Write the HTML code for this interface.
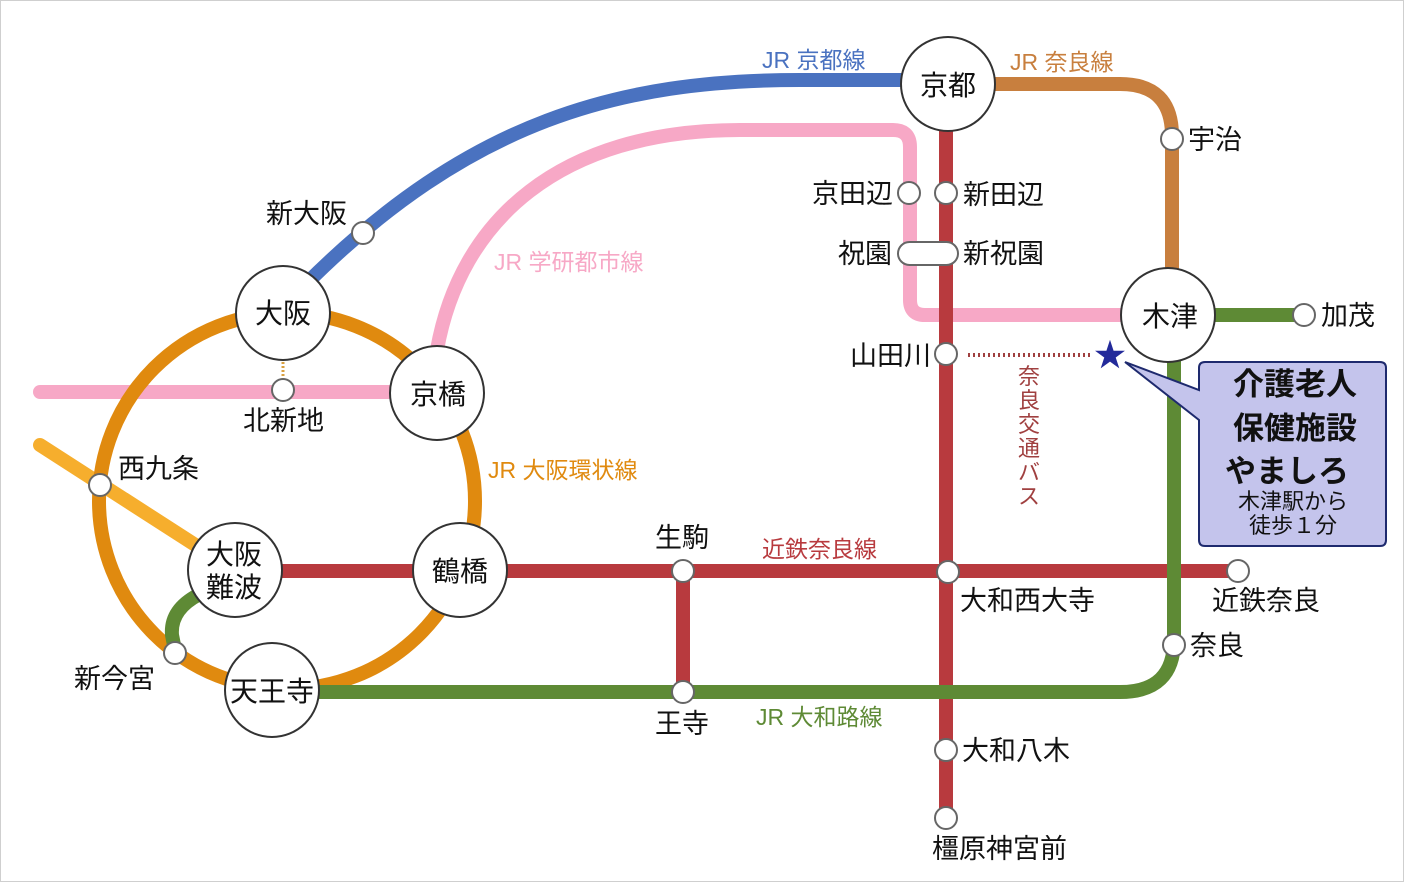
<!DOCTYPE html>
<html><head><meta charset="utf-8"><style>
html,body{margin:0;padding:0;background:#fff;}
svg{display:block;}
text{font-family:"Liberation Sans","Noto Sans CJK JP",sans-serif;}
</style></head><body>
<svg width="1404" height="882" viewBox="0 0 1404 882" xmlns="http://www.w3.org/2000/svg">
<rect x="0.5" y="0.5" width="1403" height="881" fill="#fff" stroke="#cfcfcf"/>
<g fill="none" stroke-linecap="round" stroke-width="14">
<path d="M305,285 C470,120 620,80 800,80 L905,80" stroke="#4a72c0"/>
<path d="M990,84 L1120,84 Q1172,84 1172,136 L1172,272" stroke="#c87f3e"/>
<path d="M437,350 C460,220 560,130 740,130 L893,130 Q910,130 910,147 L910,300 Q910,315 925,315 L1125,315" stroke="#f7a8c6"/>
<path d="M40,392 L395,392" stroke="#f7a8c6"/>
<path d="M40,445 L200,548" stroke="#f6ae2d"/>
<circle cx="287" cy="501" r="188" stroke="#e08a0f"/>
<path d="M280,571 L1238,571" stroke="#b83a3e"/>
<path d="M946,125 L946,818" stroke="#b83a3e"/>
<path d="M683,571 L683,692" stroke="#b83a3e"/>
<path d="M320,692 L1120,692 Q1174,692 1174,640 L1174,360" stroke="#5e8a35"/>
<path d="M1210,315 L1304,315" stroke="#5e8a35"/>
<path d="M198,595 Q170,610 172,635 L175,650" stroke="#5e8a35"/>
</g>
<line x1="283" y1="362" x2="283" y2="380" stroke="#d9a040" stroke-width="3" stroke-dasharray="2,2"/>
<line x1="968" y1="355" x2="1092" y2="355" stroke="#a04040" stroke-width="4" stroke-dasharray="2,3"/>
<g fill="#fff" stroke="#666" stroke-width="2">
<circle cx="363" cy="233" r="11"/><circle cx="283" cy="390" r="11"/><circle cx="100" cy="485" r="11"/>
<circle cx="175" cy="653" r="11"/><circle cx="683" cy="571" r="11"/><circle cx="683" cy="692" r="11"/>
<circle cx="948" cy="572" r="11"/><circle cx="946" cy="750" r="11"/><circle cx="946" cy="818" r="11"/>
<circle cx="909" cy="193" r="11"/><circle cx="946" cy="193" r="11"/><rect x="898" y="242" width="60" height="23" rx="11.5"/>
<circle cx="946" cy="354" r="11"/><circle cx="1172" cy="139" r="11"/><circle cx="1304" cy="315" r="11"/>
<circle cx="1174" cy="645" r="11"/><circle cx="1238" cy="571" r="11"/>
</g>
<g fill="#fff" stroke="#333" stroke-width="2">
<circle cx="283" cy="313" r="47"/><circle cx="437" cy="393" r="47"/><circle cx="460" cy="570" r="47"/>
<circle cx="235" cy="570" r="47"/><circle cx="272" cy="690" r="47"/><circle cx="948" cy="84" r="47"/>
<circle cx="1168" cy="315" r="47"/>
</g>
<path d="M1199,368 Q1199,362 1205,362 L1380,362 Q1386,362 1386,368 L1386,540 Q1386,546 1380,546 L1205,546 Q1199,546 1199,540 L1199,420 L1125,362 L1199,390 Z" fill="#c4c4ec" stroke="#1e2a6e" stroke-width="2"/>
<text x="1110" y="366" font-size="32" fill="#232a9a" text-anchor="middle">★</text>
<g font-size="28" fill="#111" text-anchor="middle">
<text x="283" y="323">大阪</text><text x="438" y="404">京橋</text><text x="460" y="581">鶴橋</text>
<text x="234" y="564">大阪</text><text x="234" y="597">難波</text><text x="272" y="701">天王寺</text>
<text x="948" y="95">京都</text><text x="1170" y="326">木津</text>
</g>
<g font-size="27" fill="#111">
<text x="266" y="223">新大阪</text><text x="243" y="430">北新地</text><text x="118" y="478">西九条</text>
<text x="74" y="688">新今宮</text><text x="655" y="547">生駒</text><text x="655" y="733">王寺</text>
<text x="960" y="610">大和西大寺</text><text x="962" y="760">大和八木</text><text x="932" y="858">橿原神宮前</text>
<text x="893" y="203" text-anchor="end">京田辺</text><text x="963" y="204">新田辺</text><text x="892" y="263" text-anchor="end">祝園</text><text x="963" y="263">新祝園</text>
<text x="931" y="365" text-anchor="end">山田川</text><text x="1188" y="149">宇治</text><text x="1321" y="325">加茂</text>
<text x="1190" y="655">奈良</text><text x="1212" y="610">近鉄奈良</text>
</g>
<g font-size="23">
<text x="762" y="68" fill="#4a72c0">JR 京都線</text>
<text x="1010" y="70" fill="#c87f3e">JR 奈良線</text>
<text x="494" y="270" fill="#f7a8c6">JR 学研都市線</text>
<text x="488" y="478" fill="#e08a0f">JR 大阪環状線</text>
<text x="762" y="557" fill="#b83a3e">近鉄奈良線</text>
<text x="756" y="725" fill="#5e8a35">JR 大和路線</text>
</g>
<g font-size="22" fill="#a04040" text-anchor="middle">
<text x="1029" y="384">奈</text><text x="1029" y="408">良</text><text x="1029" y="432">交</text><text x="1029" y="456">通</text><text x="1029" y="480">バ</text><text x="1029" y="504">ス</text>
</g>
<g text-anchor="middle" fill="#111">
<text x="1295" y="395" font-size="31" font-weight="bold">介護老人</text>
<text x="1295" y="439" font-size="31" font-weight="bold">保健施設</text>
<text x="1287" y="482" font-size="31" font-weight="bold">やましろ</text>
<text x="1293" y="509" font-size="22">木津駅から</text>
<text x="1293" y="533" font-size="22">徒歩１分</text>
</g>
</svg>
</body></html>
